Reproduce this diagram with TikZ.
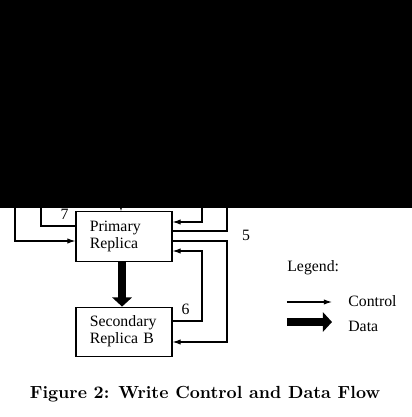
\documentclass[tikz,border=0pt]{standalone}
\usepackage{fontspec}
\newfontfamily\figfont{Liberation Serif}
\usetikzlibrary{arrows.meta,positioning}

\begin{document}
\begin{tikzpicture}[
    x=0.57pt, y=-0.57pt,
    node distance=25.65pt,
    box/.style={rectangle, draw, line width=0.6pt, minimum width=54.7pt, minimum height=28pt, text width=39pt, inner xsep=7.85pt, align=left, font=\figfont\fontsize{9}{9.7}\selectfont},
    lbl/.style={font=\figfont\fontsize{9}{9.7}\selectfont},
    ctrlarrow/.style={-{Latex[length=4.6pt, width=3pt]}, line width=0.6pt},
    dataarrow/.style={-{Triangle[length=5.2pt, width=11pt]}, line width=5pt}
]
\useasboundingbox (0,0) rectangle (412,417);

% top of the figure is blacked out
\fill[black] (0,0) rectangle (412,208);

\node[box] (primary) at (124,236.5) {Primary\\Replica};
\node[box, below=of primary] (secondary) {Secondary\\Replica B};

% free ends under the black band
\coordinate (topin) at (121,195);
\coordinate (leftin) at (15,195);
\coordinate (out7) at (41,195);
\coordinate (rightin) at (202,195);
\coordinate (rightout) at (227,195);

\draw[ctrlarrow] (topin) -- (topin |- primary.north);
\draw[ctrlarrow] (leftin) |- (primary.west |- 0,241);
\draw[ctrlarrow] (primary.west |- 0,226) -| node[lbl, above, pos=.16] (l7) {7} (out7);
\draw[ctrlarrow] (rightin) |- (primary.east |- 0,222);
\draw[ctrlarrow] (primary.east |- 0,231) -| (rightout);
\draw[ctrlarrow] (primary.east |- 0,241) -| (227,342) -- (secondary.east |- 0,342);
\node[lbl] (l5) at (246,235) {5};
\draw[ctrlarrow] (secondary.east |- 0,321) -| node[lbl, above, pos=.22] (l6) {6} (202,251) -- (primary.east |- 0,251);

\draw[dataarrow] ([xshift=-1.1pt]primary.south) -- ([xshift=-1.1pt]secondary.north);

% legend
\node[lbl, anchor=base west, inner sep=0] (legend) at (287,271.7) {Legend:};
\node[lbl, anchor=base west, inner sep=0] (ctrlkey) at (348,306.7) {Control};
\node[lbl, anchor=base west, inner sep=0] (datakey) at (348,331.7) {Data};
\coordinate (ctrl1) at (287,302);
\coordinate (ctrl2) at (332,302);
\coordinate (data1) at (287,322);
\coordinate (data2) at (332,322);
\draw[ctrlarrow] (ctrl1) -- (ctrl2);
\draw[dataarrow] (data1) -- (data2);

\node[anchor=base, font=\bfseries] (caption) at (205,398) {Figure 2: Write Control and Data Flow};

\end{tikzpicture}
\end{document}
